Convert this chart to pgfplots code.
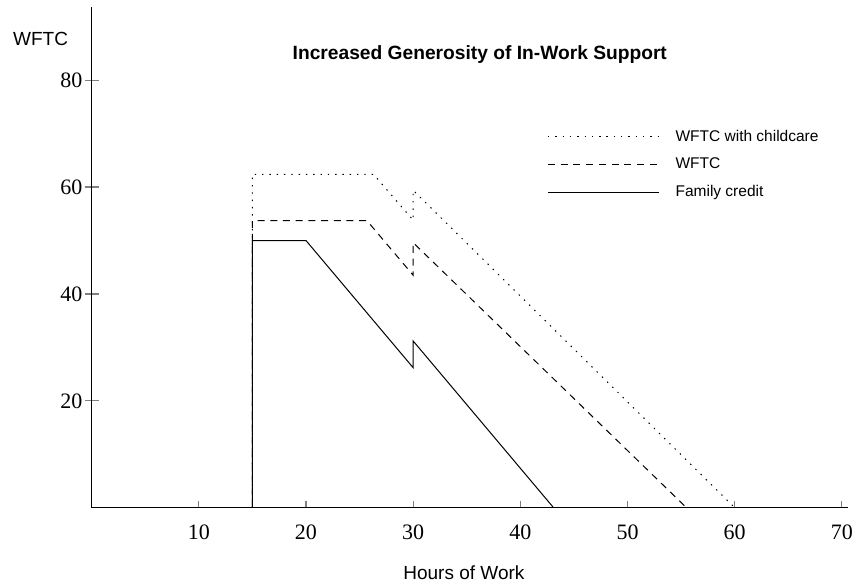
\documentclass[border=0pt]{standalone}
\usepackage{fontspec}
\setmainfont{Liberation Serif}
\newfontfamily\sans{Liberation Sans}
\usepackage{pgfplots}
\pgfplotsset{compat=1.18}

\begin{document}
\begin{tikzpicture}
\begin{axis}[
    scale only axis, width=378.3pt, height=250.3pt,
    axis lines=left, axis line style={-, line width=0.6pt},
    xmin=0, xmax=70.6, ymin=0, ymax=93.7,
    xtick={10,20,30,40,50,60,70}, ytick={20,40,60,80},
    xtick align=inside, ytick align=center,
    xtick style={line width=0.6pt, /pgfplots/major tick length=3.5pt},
    ytick style={line width=0.6pt, /pgfplots/major tick length=7pt},
    /pgf/number format/assume math mode=true,
    ticklabel style={font=\fontsize{11}{13}\selectfont},
    xticklabel style={yshift=-5pt},
    yticklabel style={xshift=1pt},
    xlabel={Hours of Work},
    xlabel style={font=\sans\fontsize{9.5}{11}\selectfont, at={(rel axis cs:0.492,-0.130)}, anchor=center},
    ylabel={WFTC},
    ylabel style={font=\sans\fontsize{9.5}{11}\selectfont, rotate=-90, at={(rel axis cs:-0.0675,0.937)}, anchor=center},
    title={Increased Generosity of In-Work Support},
    title style={font=\sans\bfseries\fontsize{9.6}{11}\selectfont, at={(rel axis cs:0.513,0.882)}, anchor=center, yshift=0pt},
    legend style={draw=none, fill=none, at={(rel axis cs:0.602,0.757)}, anchor=north west,
        inner sep=0pt, row sep=6.4pt, column sep=8pt,
        font=\sans\fontsize{7.75}{9}\selectfont,
        nodes={inner sep=0pt, text height=6pt, text depth=1.5pt}},
    legend cell align=left,
    legend image code/.code={\draw[#1] (0pt,-0.2pt) -- (55.5pt,-0.2pt);},
    clip=false,
]
\addplot[black, line width=0.5pt, dash pattern=on 0.7pt off 2.95pt] coordinates {
    (15,0) (15,62.4) (26.3,62.4) (30,53.8) (30,59.4) (60,0)};
\addlegendentry{WFTC with childcare}
\addplot[black, line width=0.5pt, dash pattern=on 3.5pt off 2.85pt] coordinates {
    (15,0) (15,53.7) (25.7,53.7) (30,43.5) (30,49.6) (55.5,0)};
\addlegendentry{WFTC}
\addplot[black, line width=0.5pt] coordinates {
    (15,0) (15,50) (20,50) (30,26.2) (30,31.2) (43.1,0)};
\addlegendentry{Family credit}
\end{axis}
\pgfresetboundingbox
\path[use as bounding box] ([shift={(-45.8pt,-38.15pt)}]current axis.south west) rectangle ([shift={(8.35pt,3.5pt)}]current axis.north east);
\end{tikzpicture}
\end{document}
